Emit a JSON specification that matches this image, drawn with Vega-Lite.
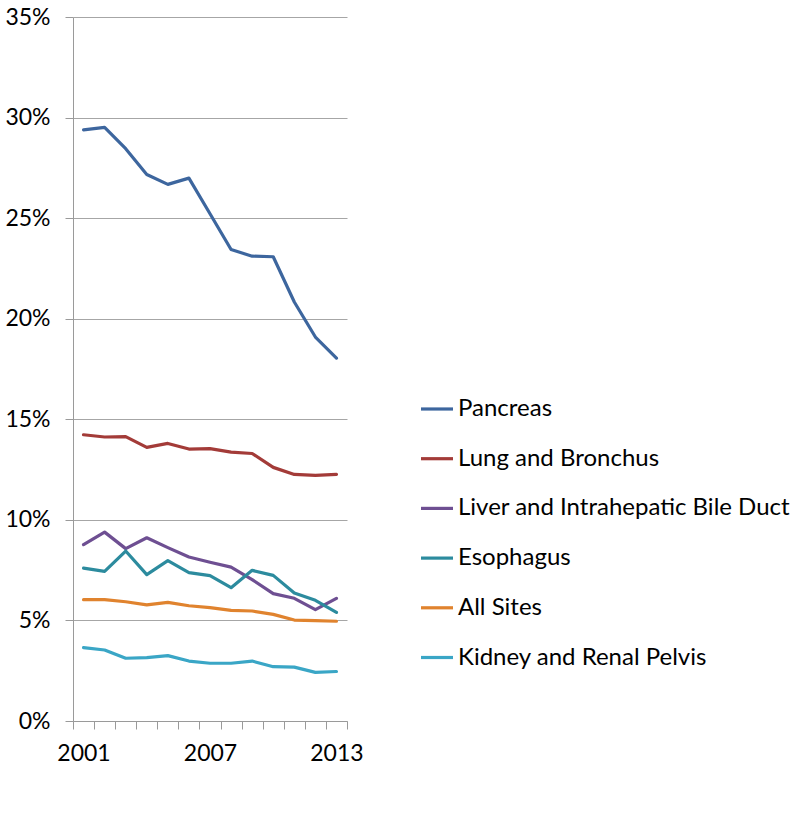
{
  "$schema": "https://vega.github.io/schema/vega-lite/v6.json",
  "autosize": {"type": "none"},
  "width": 274,
  "height": 704,
  "padding": {"left": 73, "top": 17, "right": 453, "bottom": 92},
  "background": "white",
  "config": {
    "view": {"stroke": null},
    "font": "Lato",
    "axis": {"labelFont": "Lato", "labelColor": "#000000", "labelFontSize": 23, "titleFont": "Lato"},
    "legend": {"labelFont": "Lato"}
  },
  "data": {
    "values": [
      {"year": 2001, "site": "Pancreas", "rate": 0.2939},
      {"year": 2002, "site": "Pancreas", "rate": 0.2951},
      {"year": 2003, "site": "Pancreas", "rate": 0.2845},
      {"year": 2004, "site": "Pancreas", "rate": 0.2717},
      {"year": 2005, "site": "Pancreas", "rate": 0.2668},
      {"year": 2006, "site": "Pancreas", "rate": 0.2699},
      {"year": 2007, "site": "Pancreas", "rate": 0.2522},
      {"year": 2008, "site": "Pancreas", "rate": 0.2344},
      {"year": 2009, "site": "Pancreas", "rate": 0.2311},
      {"year": 2010, "site": "Pancreas", "rate": 0.2308},
      {"year": 2011, "site": "Pancreas", "rate": 0.2083},
      {"year": 2012, "site": "Pancreas", "rate": 0.1909},
      {"year": 2013, "site": "Pancreas", "rate": 0.1804},
      {"year": 2001, "site": "Lung and Bronchus", "rate": 0.1423},
      {"year": 2002, "site": "Lung and Bronchus", "rate": 0.1412},
      {"year": 2003, "site": "Lung and Bronchus", "rate": 0.1414},
      {"year": 2004, "site": "Lung and Bronchus", "rate": 0.1360},
      {"year": 2005, "site": "Lung and Bronchus", "rate": 0.1380},
      {"year": 2006, "site": "Lung and Bronchus", "rate": 0.1352},
      {"year": 2007, "site": "Lung and Bronchus", "rate": 0.1354},
      {"year": 2008, "site": "Lung and Bronchus", "rate": 0.1337},
      {"year": 2009, "site": "Lung and Bronchus", "rate": 0.1330},
      {"year": 2010, "site": "Lung and Bronchus", "rate": 0.1261},
      {"year": 2011, "site": "Lung and Bronchus", "rate": 0.1226},
      {"year": 2012, "site": "Lung and Bronchus", "rate": 0.1221},
      {"year": 2013, "site": "Lung and Bronchus", "rate": 0.1226},
      {"year": 2001, "site": "Liver and Intrahepatic Bile Duct", "rate": 0.0877},
      {"year": 2002, "site": "Liver and Intrahepatic Bile Duct", "rate": 0.0939},
      {"year": 2003, "site": "Liver and Intrahepatic Bile Duct", "rate": 0.0857},
      {"year": 2004, "site": "Liver and Intrahepatic Bile Duct", "rate": 0.0911},
      {"year": 2005, "site": "Liver and Intrahepatic Bile Duct", "rate": 0.0862},
      {"year": 2006, "site": "Liver and Intrahepatic Bile Duct", "rate": 0.0815},
      {"year": 2007, "site": "Liver and Intrahepatic Bile Duct", "rate": 0.0789},
      {"year": 2008, "site": "Liver and Intrahepatic Bile Duct", "rate": 0.0765},
      {"year": 2009, "site": "Liver and Intrahepatic Bile Duct", "rate": 0.0703},
      {"year": 2010, "site": "Liver and Intrahepatic Bile Duct", "rate": 0.0633},
      {"year": 2011, "site": "Liver and Intrahepatic Bile Duct", "rate": 0.0610},
      {"year": 2012, "site": "Liver and Intrahepatic Bile Duct", "rate": 0.0554},
      {"year": 2013, "site": "Liver and Intrahepatic Bile Duct", "rate": 0.0610},
      {"year": 2001, "site": "Esophagus", "rate": 0.0760},
      {"year": 2002, "site": "Esophagus", "rate": 0.0744},
      {"year": 2003, "site": "Esophagus", "rate": 0.0845},
      {"year": 2004, "site": "Esophagus", "rate": 0.0728},
      {"year": 2005, "site": "Esophagus", "rate": 0.0797},
      {"year": 2006, "site": "Esophagus", "rate": 0.0738},
      {"year": 2007, "site": "Esophagus", "rate": 0.0723},
      {"year": 2008, "site": "Esophagus", "rate": 0.0663},
      {"year": 2009, "site": "Esophagus", "rate": 0.0749},
      {"year": 2010, "site": "Esophagus", "rate": 0.0724},
      {"year": 2011, "site": "Esophagus", "rate": 0.0636},
      {"year": 2012, "site": "Esophagus", "rate": 0.0600},
      {"year": 2013, "site": "Esophagus", "rate": 0.0540},
      {"year": 2001, "site": "All Sites", "rate": 0.0603},
      {"year": 2002, "site": "All Sites", "rate": 0.0603},
      {"year": 2003, "site": "All Sites", "rate": 0.0593},
      {"year": 2004, "site": "All Sites", "rate": 0.0577},
      {"year": 2005, "site": "All Sites", "rate": 0.0590},
      {"year": 2006, "site": "All Sites", "rate": 0.0573},
      {"year": 2007, "site": "All Sites", "rate": 0.0564},
      {"year": 2008, "site": "All Sites", "rate": 0.0550},
      {"year": 2009, "site": "All Sites", "rate": 0.0547},
      {"year": 2010, "site": "All Sites", "rate": 0.0530},
      {"year": 2011, "site": "All Sites", "rate": 0.0502},
      {"year": 2012, "site": "All Sites", "rate": 0.0499},
      {"year": 2013, "site": "All Sites", "rate": 0.0496},
      {"year": 2001, "site": "Kidney and Renal Pelvis", "rate": 0.0365},
      {"year": 2002, "site": "Kidney and Renal Pelvis", "rate": 0.0353},
      {"year": 2003, "site": "Kidney and Renal Pelvis", "rate": 0.0312},
      {"year": 2004, "site": "Kidney and Renal Pelvis", "rate": 0.0315},
      {"year": 2005, "site": "Kidney and Renal Pelvis", "rate": 0.0325},
      {"year": 2006, "site": "Kidney and Renal Pelvis", "rate": 0.0298},
      {"year": 2007, "site": "Kidney and Renal Pelvis", "rate": 0.0287},
      {"year": 2008, "site": "Kidney and Renal Pelvis", "rate": 0.0287},
      {"year": 2009, "site": "Kidney and Renal Pelvis", "rate": 0.0298},
      {"year": 2010, "site": "Kidney and Renal Pelvis", "rate": 0.0270},
      {"year": 2011, "site": "Kidney and Renal Pelvis", "rate": 0.0268},
      {"year": 2012, "site": "Kidney and Renal Pelvis", "rate": 0.0242},
      {"year": 2013, "site": "Kidney and Renal Pelvis", "rate": 0.0246}
    ]
  },
  "mark": {"type": "line", "strokeWidth": 3.2, "strokeJoin": "round", "strokeCap": "round"},
  "encoding": {
    "x": {
      "field": "year",
      "type": "ordinal",
      "scale": {"type": "band", "paddingInner": 0, "paddingOuter": 0},
      "axis": {
        "title": null,
        "labelAngle": 0,
        "tickBand": "extent",
        "grid": false,
        "domainColor": "#9a9a9a",
        "tickColor": "#9a9a9a",
        "tickSize": 8,
        "labelPadding": 13,
        "labelExpr": "(datum.value == 2001 || datum.value == 2007 || datum.value == 2013) ? datum.label : ''"
      }
    },
    "y": {
      "field": "rate",
      "type": "quantitative",
      "scale": {"domain": [0, 0.35], "nice": false},
      "axis": {
        "title": null,
        "values": [0, 0.05, 0.1, 0.15, 0.2, 0.25, 0.3, 0.35],
        "format": ".0%",
        "grid": true,
        "gridColor": "#a6a6a6",
        "gridWidth": 1,
        "domainColor": "#9a9a9a",
        "tickColor": "#9a9a9a",
        "tickSize": 8,
        "labelPadding": 15
      }
    },
    "color": {
      "field": "site",
      "type": "nominal",
      "scale": {
        "domain": ["Pancreas", "Lung and Bronchus", "Liver and Intrahepatic Bile Duct", "Esophagus", "All Sites", "Kidney and Renal Pelvis"],
        "range": ["#3d669e", "#a33b38", "#6e4f92", "#2c8b9e", "#e0832e", "#3aa6c6"]
      },
      "legend": {
        "title": null,
        "orient": "none",
        "legendX": 346,
        "legendY": 374,
        "padding": 0,
        "symbolType": "stroke",
        "symbolSize": 1024,
        "symbolStrokeWidth": 3.2,
        "labelFontSize": 24,
        "labelColor": "#000000",
        "labelOffset": 3,
        "rowPadding": 19.7,
        "labelLimit": 450
      }
    }
  }
}
